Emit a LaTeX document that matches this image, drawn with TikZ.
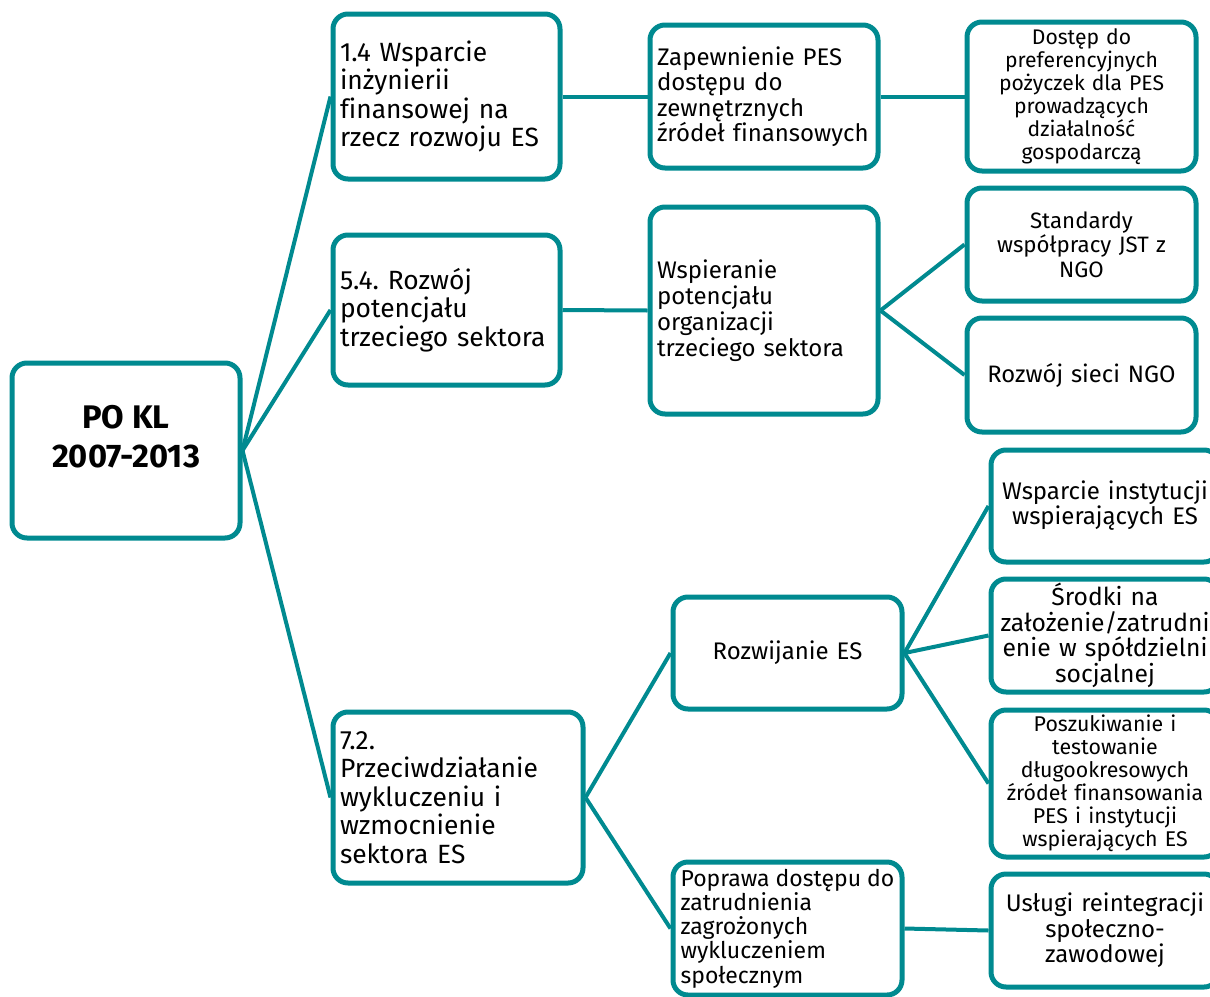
\documentclass[tikz,border=0pt]{standalone}
\usepackage{fontspec}
\setmainfont{Fira Sans}[Ligatures=NoCommon]
\usepackage{tikz}
\usetikzlibrary{positioning}
\usepackage{xcolor}
\definecolor{linkteal}{RGB}{0,138,144}
\newlength{\px}
\setlength{\px}{0.75pt}
\frenchspacing

\begin{document}
\begin{tikzpicture}[x=0.75pt, y=-0.75pt,
		card/.style={draw=linkteal, line width=5\px, rounded corners=15\px, fill=white, inner sep=0pt},
		leftcard/.style={card, align=left},
		midcard/.style={card, align=center},
		link/.style={draw=linkteal, line width=4\px}]
		\useasboundingbox (0,0) rectangle (1210,996);
		\clip (0,0) rectangle (1210,996);

		% Root
		\node[midcard, minimum width=228\px, minimum height=175\px] (root) at (126,450.5) {};
		\node[align=center, font=\fontsize{24.5pt}{29.25pt}\selectfont\bfseries] (rootlabel) at ([yshift=10pt]root.center) {PO KL\\2007-2013};

		% Priorities
		\node[leftcard, minimum width=227\px, minimum height=165\px, text width=213\px,
			font=\fontsize{19.8pt}{21.4pt}\selectfont] (fin) at (446.5,96.5)
			{1.4 Wsparcie\\inżynierii\\finansowej na\\rzecz rozwoju ES};
		\node[leftcard, minimum width=227\px, minimum height=150\px, text width=213\px,
			font=\fontsize{19.8pt}{21.4pt}\selectfont] (ngo) at (446.5,310)
			{5.4. Rozwój\\potencjału\\trzeciego sektora};
		\node[leftcard, minimum width=250\px, minimum height=171\px, text width=236\px,
			font=\fontsize{19.8pt}{21.4pt}\selectfont] (excl) at (458,797.5)
			{7.2.\\Przeciwdziałanie\\wykluczeniu i\\wzmocnienie\\sektora ES};

		% Measures
		\node[leftcard, minimum width=228\px, minimum height=143\px, text width=214\px,
			font=\fontsize{18pt}{19.1pt}\selectfont] (access) at (764,96.5)
			{Zapewnienie PES\\dostępu do\\zewnętrznych\\źródeł finansowych};
		\node[leftcard, minimum width=228\px, minimum height=207\px, text width=214\px,
			font=\fontsize{18pt}{19.5pt}\selectfont] (support) at (764,310.5)
			{Wspieranie\\potencjału\\organizacji\\trzeciego sektora};
		\node[midcard, minimum width=229\px, minimum height=112\px, text width=215\px,
			font=\fontsize{18pt}{19.1pt}\selectfont] (grow) at (787.5,653)
			{Rozwijanie ES};
		\node[leftcard, minimum width=229\px, minimum height=133\px,
			font=\fontsize{17.25pt}{18.2pt}\selectfont] (jobs) at (787.5,928.5)
			{Poprawa dostępu do\\zatrudnienia\\zagrożonych\\wykluczeniem\\społecznym};

		% Actions
		\node[midcard, minimum width=229\px, minimum height=149\px, text width=215\px,
			font=\fontsize{15.85pt}{17.25pt}\selectfont] (loans) at (1081.5,96.5)
			{Dostęp do\\preferencyjnych\\pożyczek dla PES\\prowadzących\\działalność\\gospodarczą};
		\node[midcard, minimum width=229\px, minimum height=113\px, text width=215\px,
			font=\fontsize{16.7pt}{18.4pt}\selectfont] (rules) at (1081.5,244.5)
			{Standardy\\współpracy JST z\\NGO};
		\node[midcard, minimum width=229\px, minimum height=114\px, text width=215\px,
			font=\fontsize{17.85pt}{19pt}\selectfont] (net) at (1081.5,375)
			{Rozwój sieci NGO};
		\node[midcard, minimum width=228\px, minimum height=112\px, text width=220\px,
			font=\fontsize{18pt}{18.75pt}\selectfont] (inst) at (1105,506)
			{Wsparcie instytucji\\wspierających ES};
		\node[midcard, minimum width=228\px, minimum height=113\px, text width=220\px,
			font=\fontsize{18.5pt}{19.3pt}\selectfont] (coop) at (1105,635.5)
			{Środki na\\założenie/zatrudni\\enie w spółdzielni\\socjalnej};
		\node[midcard, minimum width=228\px, minimum height=147\px, text width=220\px,
			font=\fontsize{16pt}{17.25pt}\selectfont] (search) at (1105,783.5)
			{Poszukiwanie i\\testowanie\\długookresowych\\źródeł finansowania\\PES i instytucji\\wspierających ES};
		\node[midcard, minimum width=228\px, minimum height=113\px, text width=220\px,
			font=\fontsize{18pt}{19.1pt}\selectfont] (reint) at (1105,930.5)
			{Usługi reintegracji\\społeczno-\\zawodowej};

		% Links
		\foreach \a/\b in {root/fin, root/ngo, root/excl, fin/access, access/loans,
			ngo/support, support/rules, support/net, excl/grow, excl/jobs,
			grow/inst, grow/coop, grow/search, jobs/reint} {
			\draw[link] (\a.east) -- (\b.west);
		}
	\end{tikzpicture}
\end{document}
